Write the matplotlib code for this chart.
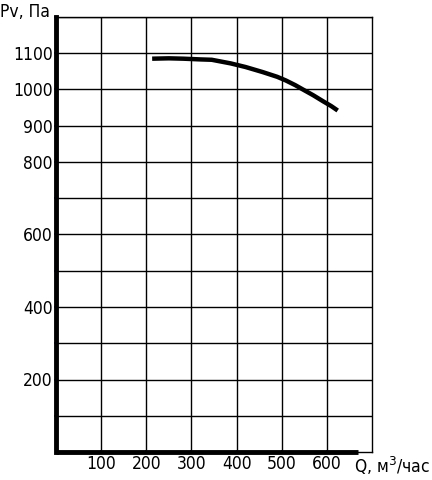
import matplotlib
matplotlib.use("Agg")
import matplotlib.pyplot as plt

# curve
q = [213, 250, 282, 320, 345, 387, 420, 458, 490, 509, 530, 547, 570, 591, 610, 624]
pv = [1085, 1086, 1085, 1083, 1082, 1072, 1062, 1048, 1035, 1025, 1012, 1000, 984, 968, 954, 942]

x_ticks = [100, 200, 300, 400, 500, 600]
y_ticks = list(range(100, 1201, 100))
y_labels = {200: "200", 400: "400", 600: "600", 800: "800", 900: "900", 1000: "1000", 1100: "1100"}

plt.rcParams['font.family'] = ['DejaVu Sans']
fs = 12.5

fig = plt.figure(figsize=(4.32, 4.8), dpi=100)
ax = fig.add_axes([56 / 432, 28 / 480, 316 / 432, 435 / 480])

ax.set_xlim(0, 700)
ax.set_ylim(0, 1200)
ax.set_xticks(x_ticks)
ax.set_yticks(y_ticks)
ax.grid(True, color='black', linewidth=1.0)
ax.set_axisbelow(True)
ax.axhline(0, color='black', linewidth=1.0, clip_on=False, zorder=0.5)

ax.set_xticklabels([str(v) for v in x_ticks], fontsize=fs, fontstretch='condensed')
ax.set_yticklabels([y_labels.get(v, "") for v in y_ticks], fontsize=fs, fontstretch='condensed')
ax.tick_params(axis='both', color='#1a1a80', length=3, width=1.2, direction='inout', pad=1)

for s in ['top', 'right']:
    ax.spines[s].set_linewidth(1.0)
ax.spines['left'].set_linewidth(3.5)
ax.spines['bottom'].set_linewidth(3.5)
ax.spines['bottom'].set_bounds(0, 668)
ax.spines['bottom'].set_capstyle('butt')

ax.plot(q, pv, color='black', linewidth=3.2, solid_capstyle='butt')

fig.text(0.0, 1 - 12 / 480, "Pv, Па", fontsize=fs, fontstretch='condensed', va='center', ha='left')
fig.text(1 - 2 / 432, 1 - 466 / 480, "Q, м$^3$/час", fontsize=fs, fontstretch='condensed',
         va='center', ha='right')

fig.savefig("out.png", dpi=100)
